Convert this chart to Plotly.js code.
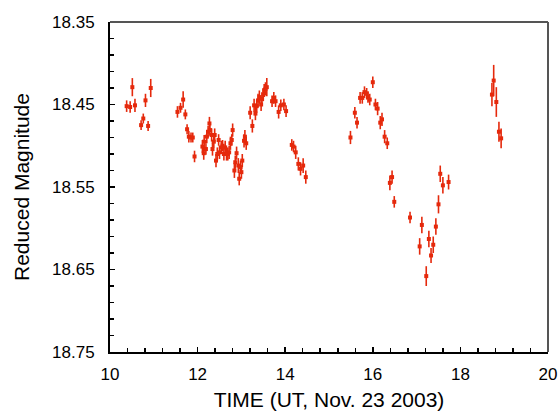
<!DOCTYPE html>
<html>
<head>
<meta charset="utf-8">
<script src="https://cdn.plot.ly/plotly-3.0.1.min.js"></script>
<style>html,body{margin:0;padding:0;background:#fff}#chart{width:560px;height:416px}</style>
</head>
<body>
<div id="chart"></div>
<script>
// Observation time (UT hours, Nov. 23 2003)
const timeUT = [
  10.38,10.46,10.51,10.57,10.71,10.76,10.81,10.87,10.93,
  11.54,11.61,11.67,11.72,11.76,11.80,11.85,11.89,11.93,
  12.11,12.14,12.15,12.19,12.21,12.24,12.27,12.28,12.32,12.34,12.37,12.39,12.42,12.45,12.48,12.50,
  12.54,12.57,12.60,12.63,12.66,12.69,12.72,12.75,12.78,12.80,12.84,12.86,12.89,12.93,12.95,12.98,
  13.00,13.02,13.06,13.08,13.11,
  13.20,13.25,13.29,13.32,13.35,13.38,13.41,13.45,13.47,13.50,13.52,13.55,13.58,
  13.70,13.74,13.78,13.85,13.90,13.97,14.02,
  14.15,14.19,14.24,14.30,14.35,14.41,14.47,
  15.49,15.59,15.64,15.71,15.76,15.81,15.86,15.89,15.93,16.00,16.06,16.11,16.17,16.21,16.27,16.33,
  16.39,16.44,16.49,16.85,17.07,17.12,17.22,17.28,17.33,17.38,17.44,17.50,17.54,17.60,17.73,
  18.72,18.76,18.82,18.88,18.93
];
// Reduced magnitude
const magnitude = [
  18.452,18.453,18.429,18.451,18.475,18.467,18.445,18.476,18.430,
  18.459,18.454,18.444,18.462,18.480,18.489,18.490,18.490,18.513,
  18.501,18.509,18.495,18.504,18.489,18.483,18.473,18.481,18.487,18.504,18.495,18.487,18.518,18.510,18.493,18.508,
  18.502,18.500,18.510,18.502,18.510,18.510,18.508,18.497,18.493,18.481,18.530,18.520,18.509,18.524,18.540,18.526,
  18.532,18.518,18.494,18.489,18.497,
  18.460,18.476,18.451,18.461,18.452,18.445,18.441,18.450,18.443,18.438,18.433,18.431,18.429,
  18.446,18.442,18.446,18.459,18.451,18.450,18.458,
  18.499,18.501,18.508,18.522,18.528,18.524,18.538,
  18.490,18.460,18.472,18.442,18.442,18.435,18.437,18.441,18.444,18.423,18.450,18.455,18.472,18.468,18.489,18.497,
  18.545,18.538,18.568,18.587,18.622,18.596,18.658,18.613,18.633,18.620,18.598,18.571,18.534,18.548,18.544,
  18.438,18.421,18.447,18.483,18.491
];
// Magnitude uncertainty (1 sigma)
const magError = [
  0.007,0.007,0.011,0.008,0.006,0.006,0.008,0.006,0.011,
  0.007,0.006,0.010,0.006,0.006,0.007,0.006,0.006,0.007,
  0.008,0.008,0.008,0.007,0.008,0.007,0.008,0.007,0.008,0.008,0.007,0.008,0.008,0.008,0.007,0.008,
  0.008,0.007,0.008,0.008,0.008,0.008,0.008,0.008,0.007,0.008,0.009,0.008,0.008,0.009,0.008,0.008,
  0.008,0.008,0.008,0.008,0.008,
  0.008,0.008,0.008,0.008,0.008,0.008,0.008,0.008,0.008,0.008,0.008,0.008,0.011,
  0.007,0.007,0.007,0.008,0.007,0.007,0.007,
  0.007,0.007,0.008,0.008,0.008,0.009,0.008,
  0.008,0.007,0.007,0.007,0.007,0.007,0.007,0.007,0.007,0.007,0.007,0.008,0.008,0.008,0.008,0.007,
  0.009,0.008,0.007,0.007,0.010,0.010,0.012,0.010,0.009,0.010,0.010,0.011,0.010,0.010,0.009,
  0.014,0.019,0.018,0.012,0.012
];

const red = '#e5290c';
const data = [{
  type: 'scatter',
  mode: 'markers',
  x: timeUT,
  y: magnitude,
  marker: {symbol: 'square', size: 4, color: red},
  error_y: {type: 'data', array: magError, visible: true, color: red, thickness: 1.6, width: 0},
  hoverinfo: 'x+y'
}];

const fontFam = 'Liberation Sans, Arial, Helvetica, sans-serif';
const layout = {
  width: 560, height: 416,
  margin: {l: 110, r: 12, t: 22, b: 64},
  paper_bgcolor: '#fff', plot_bgcolor: '#fff',
  showlegend: false,
  font: {family: fontFam, color: '#000', size: 17},
  xaxis: {
    range: [10, 20],
    tick0: 10, dtick: 2,
    ticks: 'inside', ticklen: 5, tickwidth: 1.5, tickcolor: '#000',
    minor: {dtick: 0.4, tick0: 10, ticks: 'inside', ticklen: 4, tickwidth: 1.5, tickcolor: '#000'},
    showgrid: false, zeroline: false,
    showline: true, linecolor: '#000', linewidth: 2,
    tickfont: {family: fontFam, size: 17, color: '#000'},
    ticklabelstandoff: 6,
    title: {text: 'TIME (UT, Nov. 23 2003)', font: {family: fontFam, size: 21, color: '#000'}, standoff: 9}
  },
  yaxis: {
    range: [18.75, 18.35],
    tick0: 18.35, dtick: 0.1, tickformat: '.2f',
    ticks: 'inside', ticklen: 5, tickwidth: 1.5, tickcolor: '#000',
    minor: {dtick: 0.02, tick0: 18.35, ticks: 'inside', ticklen: 4, tickwidth: 1.5, tickcolor: '#000'},
    showgrid: false, zeroline: false,
    showline: true, linecolor: '#000', linewidth: 2,
    tickfont: {family: fontFam, size: 17, color: '#000'},
    ticklabelstandoff: 10,
    title: {text: 'Reduced Magnitude', font: {family: fontFam, size: 21, color: '#000'}, standoff: 17}
  },
  shapes: [
    {type: 'line', xref: 'paper', yref: 'paper', x0: 0, x1: 1, y0: 1, y1: 1, line: {color: '#555', width: 2}},
    {type: 'line', xref: 'paper', yref: 'paper', x0: 1, x1: 1, y0: 0, y1: 1, line: {color: '#555', width: 2}}
  ]
};

Plotly.newPlot('chart', data, layout, {displayModeBar: false, staticPlot: true});
</script>
</body>
</html>
